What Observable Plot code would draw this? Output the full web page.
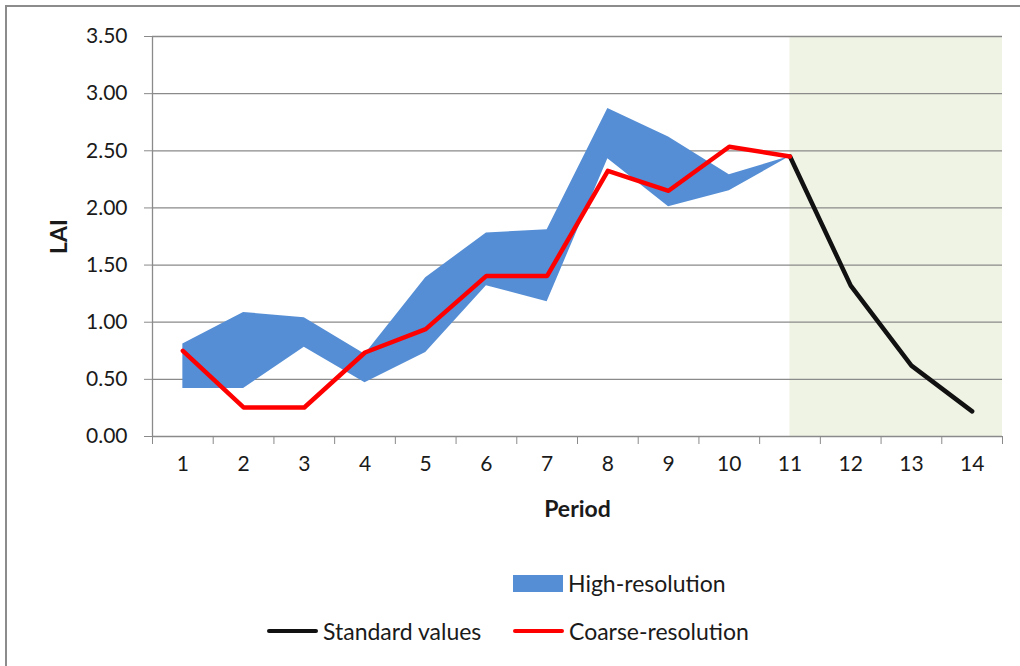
<!DOCTYPE html>
<html><head><meta charset="utf-8">
<script src="https://cdn.jsdelivr.net/npm/d3@7"></script>
<script src="https://cdn.jsdelivr.net/npm/@observablehq/plot@0.6"></script>
<style>
body{margin:0;background:#fff;font-family:Lato, sans-serif;}
#wrap{position:relative;width:1020px;height:666px;overflow:hidden;background:#fff}
#frame{position:absolute;left:5px;top:5px;width:1040px;height:700px;border:2px solid #8c8c8c;box-sizing:border-box}
#chart{position:absolute;left:0;top:0}
.item{position:absolute;display:flex;align-items:center;font-size:23px;color:#1a1a1a;font-family:Lato, sans-serif;height:26px}
.sw{display:inline-block;margin-right:5px}
g[aria-label="x-axis label"] text, g[aria-label="y-axis label"] text{font-weight:bold;font-size:23px}
</style></head><body>
<div id="wrap"><div id="frame"></div><div id="chart"></div>
<div class="item" style="left:513px;top:570px"><span class="sw" style="width:50px;height:17px;background:#558ed5"></span>High-resolution</div>
<div class="item" style="left:267px;top:618px"><span class="sw" style="width:51px;height:4px;border-radius:2px;background:#111"></span>Standard values</div>
<div class="item" style="left:513px;top:618px"><span class="sw" style="width:51px;height:4px;border-radius:2px;background:#ff0000"></span>Coarse-resolution</div>
</div>
<script>
const periods = [1,2,3,4,5,6,7,8,9,10,11,12,13,14];
const periodBounds = [0.5,1.5,2.5,3.5,4.5,5.5,6.5,7.5,8.5,9.5,10.5,11.5,12.5,13.5,14.5];
const yTicks = [0,0.5,1,1.5,2,2.5,3,3.5];
const hiPeriods = [1,2,3,4,5,6,7,8,9,10,11];
const hiLow  = [0.42,0.42,0.78,0.47,0.735,1.32,1.18,2.43,2.01,2.15,2.45];
const hiHigh = [0.81,1.085,1.04,0.72,1.39,1.78,1.81,2.87,2.62,2.29,2.45];
const coarseValues = [0.75,0.254,0.254,0.735,0.94,1.405,1.405,2.325,2.15,2.535,2.45];
const stdPeriods = [11,12,13,14];
const stdValues = [2.45,1.32,0.62,0.22];
const shadeFrom = [11];
const shadeTo = [14.5];

const hi = hiPeriods.map((p,i)=>({period:p, low:hiLow[i], high:hiHigh[i]}));
const coarse = hiPeriods.map((p,i)=>({period:p, value:coarseValues[i]}));
const std = stdPeriods.map((p,i)=>({period:p, value:stdValues[i]}));
const shade = shadeFrom.map((a,i)=>({x1:a, x2:shadeTo[i]}));

const chart = Plot.plot({
  width:1020, height:540,
  marginLeft:152, marginRight:18, marginTop:36, marginBottom:104,
  x:{domain:[0.5,14.5]},
  y:{domain:[0,3.5]},
  style:{fontFamily:"Lato, sans-serif", fontSize:"21px", color:"#1a1a1a", background:"transparent", overflow:"visible"},
  marks:[
    Plot.rect(shade,{x1:"x1", x2:"x2", fill:"#eff3e4"}),
    Plot.gridY(yTicks,{stroke:"#8a8a8a", strokeOpacity:1, strokeWidth:1.3}),
    Plot.ruleX([0.5],{stroke:"#8a8a8a", strokeWidth:1.3}),
    Plot.axisY(yTicks,{tickSize:8, tickPadding:17, stroke:"#8a8a8a", tickFormat:d=>d.toFixed(2), label:"LAI", labelArrow:"none", labelAnchor:"center", labelOffset:102}),
    Plot.axisX(periodBounds,{tickSize:8, stroke:"#8a8a8a", tickFormat:()=>"", label:null}),
    Plot.axisX(periods,{tickSize:0, tickPadding:20, tickFormat:d=>String(d), label:"Period", labelArrow:"none", labelAnchor:"center", labelOffset:80}),
    Plot.areaY(hi,{x:"period", y1:"low", y2:"high", fill:"#558ed5"}),
    Plot.lineY(std,{x:"period", y:"value", stroke:"#111", strokeWidth:4.5}),
    Plot.lineY(coarse,{x:"period", y:"value", stroke:"#ff0000", strokeWidth:4.5})
  ]
});
chart.querySelectorAll('g[aria-label$="axis label"] text').forEach(t=>{
  t.textContent = t.textContent.replace(/[\u2190-\u2193]/g,"").trim();
});
document.getElementById("chart").appendChild(chart);
</script>
</body></html>
